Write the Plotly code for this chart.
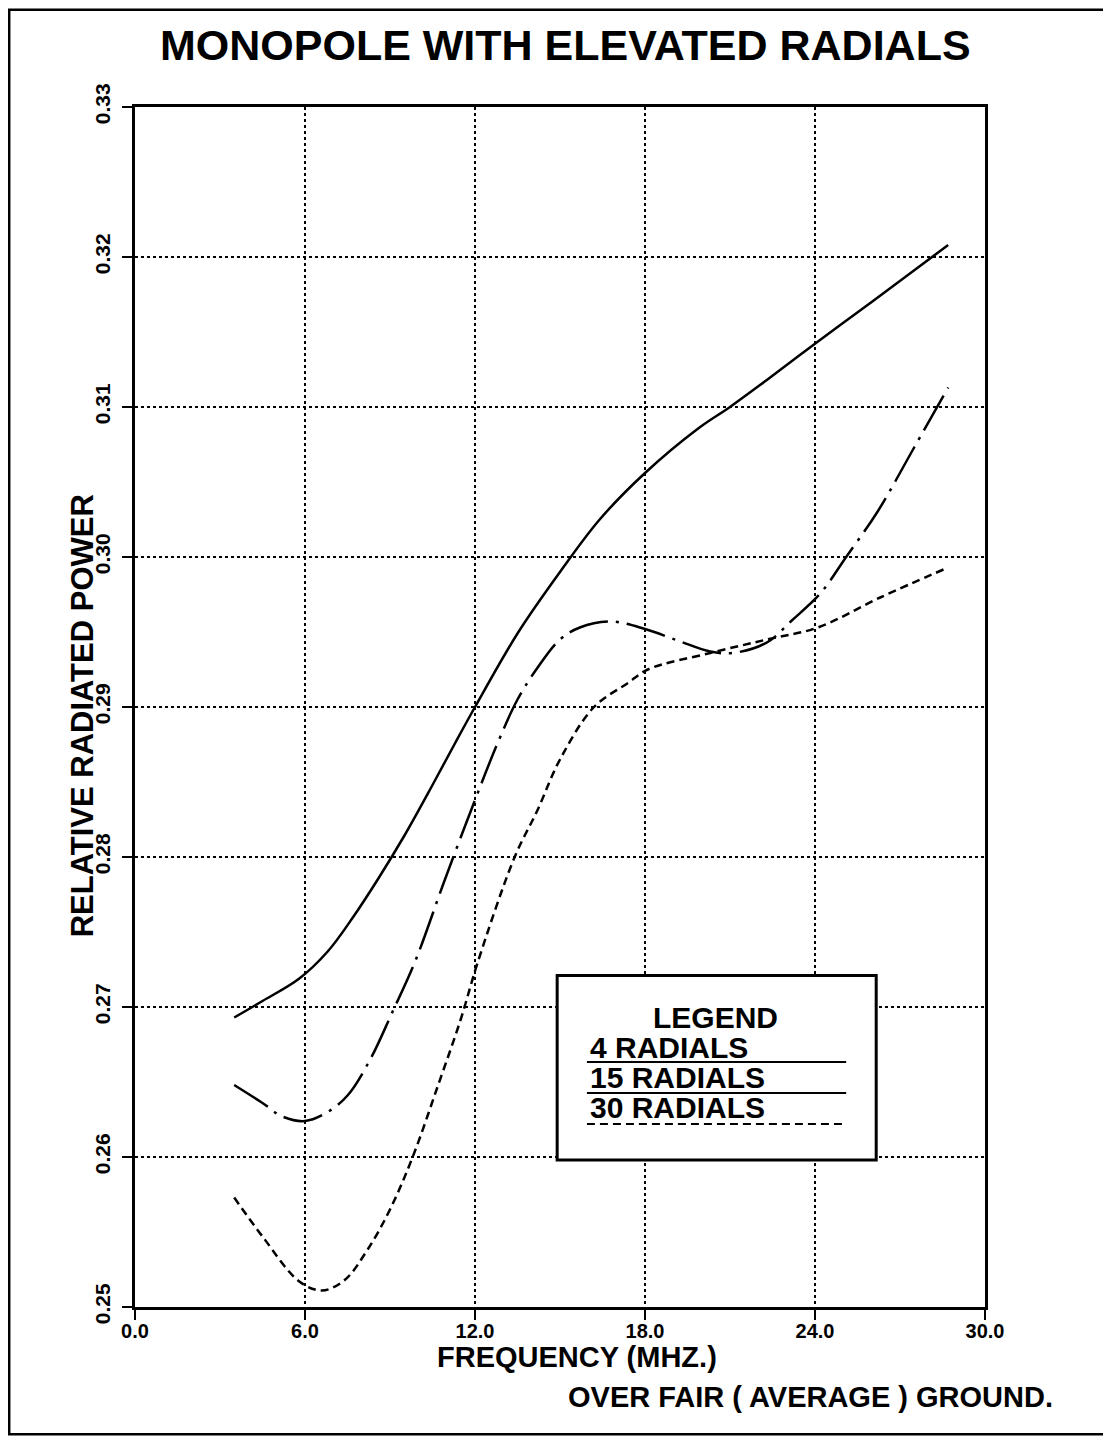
"""Monopole with elevated radials - relative radiated power vs frequency."""
import plotly.graph_objects as go

# ---- data ----
freq_4 = [3.5, 4.5, 5.8, 6.8, 7.7, 8.6, 9.5, 10.5, 11.3, 12.0, 13.5, 15.0,
          16.4, 18.0, 19.9, 21.0, 22.3, 24.2, 26.0, 28.7]
power_4 = [0.2693, 0.2704, 0.2719, 0.2737, 0.2760, 0.2786, 0.2814, 0.2848,
           0.2876, 0.2900, 0.2949, 0.2990, 0.3025, 0.3056, 0.3086, 0.3100,
           0.3118, 0.3145, 0.3170, 0.3208]

freq_15 = [3.5, 4.5, 5.2, 6.0, 6.8, 7.5, 8.3, 9.07, 9.9, 10.9, 12.0, 12.8,
           13.5, 14.2, 15.0, 15.7, 16.8, 18.0, 19.2, 20.3, 21.1, 22.3, 23.2,
           24.2, 25.1, 26.2, 27.5, 28.7]
power_15 = [0.2648, 0.2636, 0.2627, 0.2624, 0.2630, 0.2641, 0.2665, 0.2696,
            0.2731, 0.2783, 0.2838, 0.2876, 0.2905, 0.2926, 0.2945, 0.2953,
            0.2957, 0.2952, 0.2944, 0.2937, 0.2936, 0.2943, 0.2958, 0.2976,
            0.3000, 0.3030, 0.3073, 0.3113]

freq_30 = [3.5, 4.5, 5.8, 6.6, 7.4, 8.2, 9.0, 9.8, 10.7, 11.5, 12.1, 13.4,
           14.2, 15.0, 16.2, 17.4, 18.1, 20.3, 22.3, 24.1, 26.3, 28.7]
power_30 = [0.2573, 0.2547, 0.2517, 0.2511, 0.2518, 0.2538, 0.2565, 0.2600,
            0.2648, 0.2692, 0.2730, 0.2800, 0.2831, 0.2865, 0.2900, 0.2916,
            0.2925, 0.2936, 0.2945, 0.2953, 0.2973, 0.2993]

x_ticks = [0, 6, 12, 18, 24, 30]
x_labels = ["0.0", "6.0", "12.0", "18.0", "24.0", "30.0"]
y_ticks = [0.25, 0.26, 0.27, 0.28, 0.29, 0.30, 0.31, 0.32, 0.33]
y_labels = ["0.25", "0.26", "0.27", "0.28", "0.29", "0.30", "0.31", "0.32", "0.33"]

FONT = "Liberation Sans"
INK = "black"

fig = go.Figure()

series = [
    (freq_4, power_4, "solid", "4 RADIALS"),
    (freq_15, power_15, "40px,8px,3px,8px", "15 RADIALS"),
    (freq_30, power_30, "8px,5px", "30 RADIALS"),
]
for xs, ys, dash, name in series:
    fig.add_trace(go.Scatter(
        x=xs, y=ys, mode="lines", name=name,
        line=dict(color=INK, width=2.5, dash=dash, shape="spline", smoothing=1.0),
        showlegend=False,
    ))

# hand-drawn style legend box inside the plot
fig.add_shape(type="rect", xref="x", yref="y", x0=14.9, x1=26.16, y0=0.2598, y1=0.2721,
              line=dict(color=INK, width=3), fillcolor="white", layer="above")
fig.add_annotation(x=20.5, y=0.2693, xref="x", yref="y", text="<b>LEGEND</b>",
                   showarrow=False, font=dict(family=FONT, size=30, color=INK))
legend_rows = [(0.26727, 0.26633, "solid"), (0.26527, 0.26427, "solid"),
               (0.26327, 0.2622, "8px,5px")]
for (ty, ly, dash), (_, _, _, name) in zip(legend_rows, series):
    fig.add_annotation(x=16.0, y=ty, xref="x", yref="y", text=f"<b>{name}</b>",
                       showarrow=False, xanchor="left",
                       font=dict(family=FONT, size=30, color=INK))
    fig.add_shape(type="line", xref="x", yref="y", x0=15.95, x1=25.1, y0=ly, y1=ly,
                  line=dict(color=INK, width=2, dash=dash), layer="above")

# outer page border (open on the right, as in the scan)
fig.add_shape(type="rect", xref="paper", yref="paper", x0=-0.148, x1=1.2, y0=-0.106, y1=1.081,
              line=dict(color=INK, width=2.5))

fig.add_annotation(x=0.506, y=1.052, xref="paper", yref="paper",
                   xanchor="center", yanchor="middle",
                   text="<b>MONOPOLE WITH ELEVATED RADIALS</b>", showarrow=False,
                   font=dict(family=FONT, size=43, color=INK))
fig.add_annotation(x=0.52, y=-0.042, xref="paper", yref="paper",
                   xanchor="center", yanchor="middle",
                   text="<b>FREQUENCY (MHZ.)</b>", showarrow=False,
                   font=dict(family=FONT, size=29, color=INK))
fig.add_annotation(x=1.082, y=-0.075, xref="paper", yref="paper",
                   xanchor="right", yanchor="middle",
                   text="<b>OVER FAIR ( AVERAGE ) GROUND.</b>", showarrow=False,
                   font=dict(family=FONT, size=29, color=INK))
fig.add_annotation(x=-0.0624, y=0.493, xref="paper", yref="paper", textangle=-90,
                   xanchor="center", yanchor="middle",
                   text="<b>RELATIVE RADIATED POWER</b>", showarrow=False,
                   font=dict(family=FONT, size=31, color=INK))

fig.update_layout(
    width=1103, height=1428,
    margin=dict(l=127, r=126, t=99, b=129),
    plot_bgcolor="white", paper_bgcolor="white",
    showlegend=False,
    xaxis=dict(
        range=[0, 30], tickvals=x_ticks, ticktext=[f"<b>{t}</b>" for t in x_labels],
        showline=True, mirror=True, linecolor=INK, linewidth=3,
        ticks="outside", ticklen=10, tickwidth=2, tickcolor=INK,
        ticklabelstandoff=-6,
        showgrid=True, gridcolor=INK, gridwidth=2, griddash="dot",
        zeroline=False, tickfont=dict(family=FONT, size=20, color=INK),
    ),
    yaxis=dict(
        range=[0.25, 0.33], tickvals=y_ticks, ticktext=[f"<b>{t}</b>" for t in y_labels],
        tickangle=-90, ticklabelstandoff=4,
        showline=True, mirror=True, linecolor=INK, linewidth=3,
        ticks="outside", ticklen=10, tickwidth=2, tickcolor=INK,
        showgrid=True, gridcolor=INK, gridwidth=2, griddash="dot",
        zeroline=False, tickfont=dict(family=FONT, size=21, color=INK),
    ),
)

fig.write_html("out.html")
